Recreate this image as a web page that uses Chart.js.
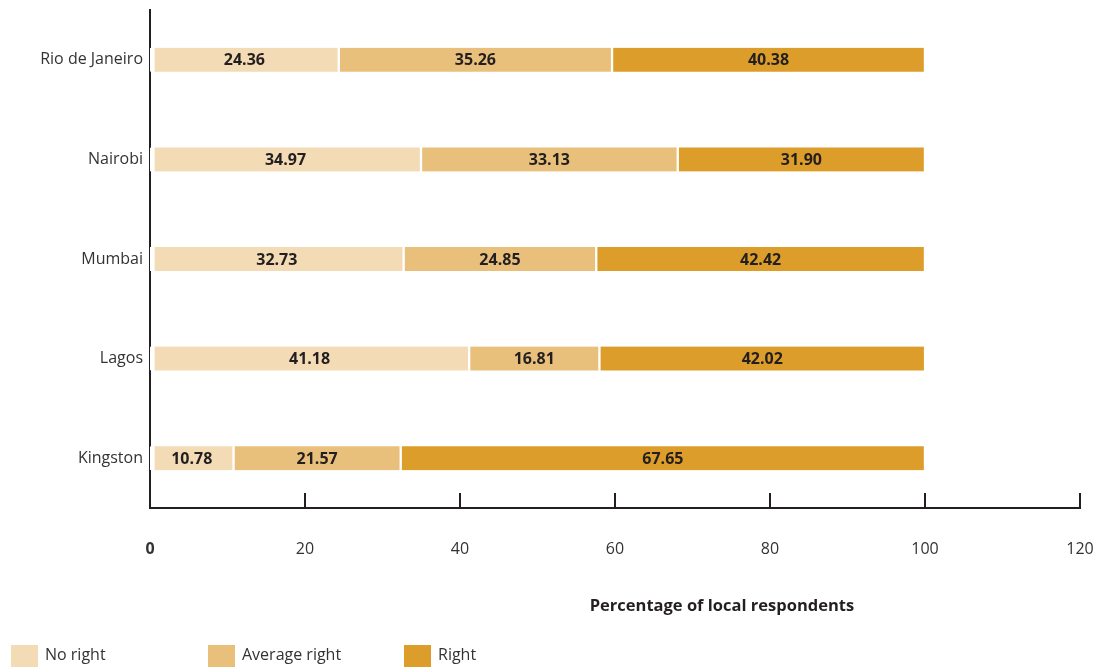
<!DOCTYPE html>
<html>
<head>
<meta charset="utf-8">
<script src="https://cdn.jsdelivr.net/npm/chart.js@4"></script>
<style>
html,body{margin:0;padding:0;background:#fff;}
#wrap{width:1094px;height:667px;position:relative;}
</style>
</head>
<body>
<div id="wrap"><canvas id="c" width="1094" height="667"></canvas></div>
<script>
const categories = ["Rio de Janeiro", "Nairobi", "Mumbai", "Lagos", "Kingston"];
const seriesNames = ["No right", "Average right", "Right"];
const noRight = [24.36, 34.97, 32.73, 41.18, 10.78];
const averageRight = [35.26, 33.13, 24.85, 16.81, 21.57];
const right = [40.38, 31.90, 42.42, 42.02, 67.65];
const colors = ["#F3DBB6", "#E9C07B", "#DC9D2A"];
const xTicks = [0, 20, 40, 60, 80, 100, 120];
const axisTitle = "Percentage of local respondents";

const FONT = "'Open Sans', 'DejaVu Sans', sans-serif";
const seriesData = [noRight, averageRight, right];

const datasets = seriesData.map((d, i) => ({
  label: seriesNames[i],
  data: d,
  backgroundColor: colors[i],
  borderColor: "#ffffff",
  borderWidth: i === 0 ? {left: 5, right: 1.5, top: 0, bottom: 0} : {left: 1.5, right: 1.5, top: 0, bottom: 0},
  borderSkipped: false,
  barThickness: 24
}));

const valueLabels = {
  id: "valueLabels",
  afterDatasetsDraw(chart) {
    const ctx = chart.ctx;
    ctx.save();
    ctx.font = "bold 16px " + FONT;
    ctx.fillStyle = "#231f20";
    ctx.textAlign = "center";
    ctx.textBaseline = "middle";
    chart.data.datasets.forEach((ds, di) => {
      const meta = chart.getDatasetMeta(di);
      meta.data.forEach((bar, j) => {
        const p = bar.getProps(["x", "y", "base"], true);
        ctx.fillText(ds.data[j].toFixed(2), (p.x + p.base) / 2, p.y + 1);
      });
    });
    ctx.restore();
  }
};

const axisExtras = {
  id: "axisExtras",
  afterDraw(chart) {
    const ctx = chart.ctx;
    const xs = chart.scales.x;
    const area = chart.chartArea;
    ctx.save();
    ctx.strokeStyle = "#231f20";
    ctx.lineWidth = 2;
    xTicks.forEach(v => {
      if (v === 0) return;
      const px = Math.round(xs.getPixelForValue(v));
      ctx.beginPath();
      ctx.moveTo(px, area.bottom);
      ctx.lineTo(px, area.bottom - 15);
      ctx.stroke();
    });
    ctx.font = "bold 16.5px " + FONT;
    ctx.fillStyle = "#231f20";
    ctx.textAlign = "center";
    ctx.textBaseline = "middle";
    ctx.fillText(axisTitle, area.left + (area.right - area.left) * 0.615, 606);
    const starts = [11, 208, 404];
    ctx.font = "16px " + FONT;
    ctx.textAlign = "left";
    chart.data.datasets.forEach((ds, i) => {
      ctx.fillStyle = ds.backgroundColor;
      ctx.fillRect(starts[i], 645, 27, 22);
      ctx.fillStyle = "#333333";
      ctx.fillText(ds.label, starts[i] + 34, 655);
    });
    ctx.restore();
  }
};

new Chart(document.getElementById("c"), {
  type: "bar",
  data: { labels: categories, datasets },
  options: {
    indexAxis: "y",
    responsive: false,
    animation: false,
    maintainAspectRatio: false,
    layout: { padding: { top: 10, right: 0, left: 0, bottom: 0 } },
    plugins: { legend: { display: false }, tooltip: { enabled: false } },
    scales: {
      x: {
        stacked: true,
        min: 0, max: 120,
        afterBuildTicks(s) { s.ticks = xTicks.map(v => ({ value: v })); },
        afterFit(s) { s.height = 159; s.paddingRight = 14; s.paddingLeft = 0; },
        grid: { display: false, drawTicks: false },
        border: { display: true, color: "#231f20", width: 2 },
        ticks: {
          padding: 32,
          color: "#333333",
          font: (c) => (c.tick && c.tick.value === 0) ? { family: FONT, size: 16, weight: "bold" } : { family: FONT, size: 16 },
          callback: (v) => String(v)
        }
      },
      y: {
        stacked: true,
        z: 1,
        afterFit(s) { s.width = 150; s.paddingTop = 0; s.paddingBottom = 0; },
        grid: { display: false, drawTicks: false },
        border: { display: true, color: "#231f20", width: 2 },
        ticks: { padding: 7, color: "#333333", font: { family: FONT, size: 16 } }
      }
    }
  },
  plugins: [valueLabels, axisExtras]
});
</script>
</body>
</html>
